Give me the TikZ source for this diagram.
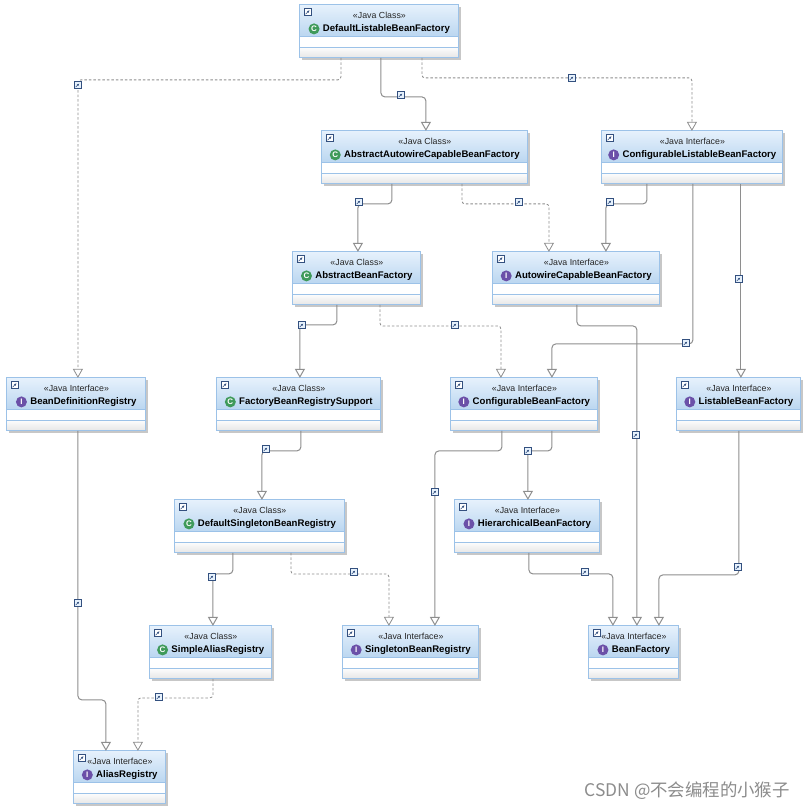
\documentclass[tikz,border=0pt]{standalone}
\usepackage{fontspec}
\setmainfont{Liberation Sans}
\newfontfamily\cjkwm{Noto Sans CJK SC}
\usetikzlibrary{arrows.meta,calc}
\definecolor{frameblue}{HTML}{9CC2E8}
\definecolor{headtop}{HTML}{E6F1FC}
\definecolor{headbot}{HTML}{BAD6F0}
\definecolor{gentop}{HTML}{FBFBFB}
\definecolor{genbot}{HTML}{E6E6E6}
\definecolor{linegray}{HTML}{8E8E8E}
\definecolor{classgreen}{HTML}{3F9A5A}
\definecolor{ifacepurple}{HTML}{6B50A8}
\definecolor{markblue}{HTML}{33507F}
\tikzset{
  x=1pt,y=-1pt,
  framebox/.style={draw=frameblue,fill=white,line width=1pt,inner sep=0pt,outer sep=0pt,anchor=north west},
  stereo/.style={font=\fontsize{8.8}{10}\selectfont,text=black!85,inner sep=0pt},
  titletext/.style={font=\fontsize{9.6}{11}\selectfont\bfseries,text=black,inner sep=0pt},
  kindicon/.style={circle,minimum size=11pt,inner sep=0pt,text=white,font=\fontsize{8}{8}\selectfont\bfseries},
  linkmark/.style={draw=markblue,fill=white,line width=.7pt,minimum size=7pt,inner sep=0pt},
  markonline/.style={draw=markblue,fill=headtop,line width=.9pt,minimum size=6.5pt,inner sep=0pt},
  conn/.style={draw=linegray,line width=1pt,rounded corners=4pt,-{Triangle[open,length=9pt,width=10pt,fill=white]}},
  realize/.style={draw=linegray,line width=.8pt,dash pattern=on 2.5pt off 2pt,rounded corners=3pt,-{Triangle[open,length=9pt,width=10pt,fill=white]}},
}
% name, x, y, width, icon colour, icon letter, stereotype, title
\newcommand{\umlbox}[8]{%
  \begin{scope}[shift={(#2,#3)}]
    \fill[black!22] (2,2) rectangle (#4+2,55);
    \node[framebox,minimum width=#4pt,minimum height=53pt] (#1) at (0,0) {};
    \shade[top color=headtop,bottom color=headbot] (0,0) rectangle (#4,32);
    \shade[top color=gentop,bottom color=genbot] (0,43) rectangle (#4,53);
    \draw[frameblue,line width=1pt] (0,32) -- (#4,32) (0,43) -- (#4,43) (0,0) rectangle (#4,53);
    \node[linkmark] (#1-link) at (8,7) {};
    \draw[markblue,line width=.6pt,-{Latex[length=2.5pt,width=2.5pt]}] (#1-link.south west) ++(1.5,-1.5) -- ++(4,-4);
    \node[stereo] (#1-st) at (#4/2,10.5) {«#7»};
    \node[titletext,anchor=center] (#1-ti) at (#4/2+7,24) {#8};
    \node[kindicon,fill=#5,anchor=east] (#1-ic) at ([xshift=-3pt]#1-ti.west) {#6};
  \end{scope}}
\newcommand{\markat}[3]{%
  \node[markonline] (#1) at (#2,#3) {};
  \draw[markblue,line width=.6pt,-{Latex[length=2.2pt,width=2.2pt]}] (#1.south west) ++(1.5,-1.5) -- ++(3.5,-3.5);}
% style, from, dx, drop, to, dx
\newcommand{\elbow}[6]{\draw[#1] ($(#2.south west)+(#3,0)$) -- ++(0,#4) -| ($(#5.north west)+(#6,0)$);}
\begin{document}
\begin{tikzpicture}
\useasboundingbox (0.1,0.1) rectangle (805.1,810.1);
\fill[white] (0.1,0.1) rectangle (805.1,810.1);
\def\cc{classgreen}\def\ci{ifacepurple}

\umlbox{dlbf}{300}{5}{159}{\cc}{C}{Java Class}{DefaultListableBeanFactory}
\umlbox{aacbf}{322}{131}{206}{\cc}{C}{Java Class}{AbstractAutowireCapableBeanFactory}
\umlbox{clbf}{602}{131}{181}{\ci}{I}{Java Interface}{ConfigurableListableBeanFactory}
\umlbox{abf}{293}{252}{128}{\cc}{C}{Java Class}{AbstractBeanFactory}
\umlbox{acbf}{493}{252}{167}{\ci}{I}{Java Interface}{AutowireCapableBeanFactory}
\umlbox{bdr}{7}{378}{139}{\ci}{I}{Java Interface}{BeanDefinitionRegistry}
\umlbox{fbrs}{217}{378}{164}{\cc}{C}{Java Class}{FactoryBeanRegistrySupport}
\umlbox{cbf}{451}{378}{147}{\ci}{I}{Java Interface}{ConfigurableBeanFactory}
\umlbox{lbf}{677}{378}{124}{\ci}{I}{Java Interface}{ListableBeanFactory}
\umlbox{dsbr}{175}{500}{170}{\cc}{C}{Java Class}{DefaultSingletonBeanRegistry}
\umlbox{hbf}{455}{500}{145}{\ci}{I}{Java Interface}{HierarchicalBeanFactory}
\umlbox{sar}{150}{626}{122}{\cc}{C}{Java Class}{SimpleAliasRegistry}
\umlbox{sbr}{343}{626}{136}{\ci}{I}{Java Interface}{SingletonBeanRegistry}
\umlbox{bf}{589}{626}{90}{\ci}{I}{Java Interface}{BeanFactory}
\umlbox{ar}{74}{751}{92}{\ci}{I}{Java Interface}{AliasRegistry}

\elbow{realize}{dlbf}{41}{22}{bdr}{71}
\elbow{conn}{dlbf}{81}{39}{aacbf}{104}
\elbow{realize}{dlbf}{122}{20}{clbf}{90}
\elbow{conn}{aacbf}{70}{20}{abf}{65}
\elbow{realize}{aacbf}{140}{20}{acbf}{56}
\elbow{conn}{clbf}{45}{20}{acbf}{113}
\elbow{conn}{clbf}{91}{160}{cbf}{101}
\draw[conn] ($(clbf.south west)+(139,0)$) -- ($(lbf.north west)+(64,0)$);
\elbow{conn}{abf}{44}{20}{fbrs}{83}
\elbow{realize}{abf}{87}{21}{cbf}{50}
\elbow{conn}{acbf}{84}{21}{bf}{48}
\elbow{conn}{fbrs}{84}{20}{dsbr}{87}
\elbow{conn}{cbf}{51}{20}{sbr}{92}
\elbow{conn}{cbf}{101}{20}{hbf}{73}
\elbow{conn}{lbf}{62}{144}{bf}{70}
\elbow{conn}{hbf}{74}{21}{bf}{24}
\elbow{conn}{dsbr}{58}{21}{sar}{63}
\elbow{realize}{dsbr}{116}{21}{sbr}{46}
\elbow{conn}{bdr}{71}{269}{ar}{32}
\elbow{realize}{sar}{63}{19}{ar}{64}

\markat{m1}{78}{85}
\markat{m2}{401}{95}
\markat{m3}{572}{78}
\markat{m4}{359}{202}
\markat{m5}{519}{202}
\markat{m6}{610}{202}
\markat{m7}{686}{343}
\markat{m8}{739}{279}
\markat{m9}{302}{325}
\markat{m10}{455}{325}
\markat{m11}{636}{435}
\markat{m12}{266}{449}
\markat{m13}{435}{492}
\markat{m14}{528}{451}
\markat{m15}{738}{567}
\markat{m16}{585}{572}
\markat{m17}{212}{577}
\markat{m18}{354}{572}
\markat{m19}{78}{603}
\markat{m20}{159}{697}

\node[anchor=east,inner sep=0pt,text=black!45,font=\fontsize{17.4}{20}\cjkwm] (wm) at (790,791) {CSDN @不会编程的小猴子};
\end{tikzpicture}
\end{document}
